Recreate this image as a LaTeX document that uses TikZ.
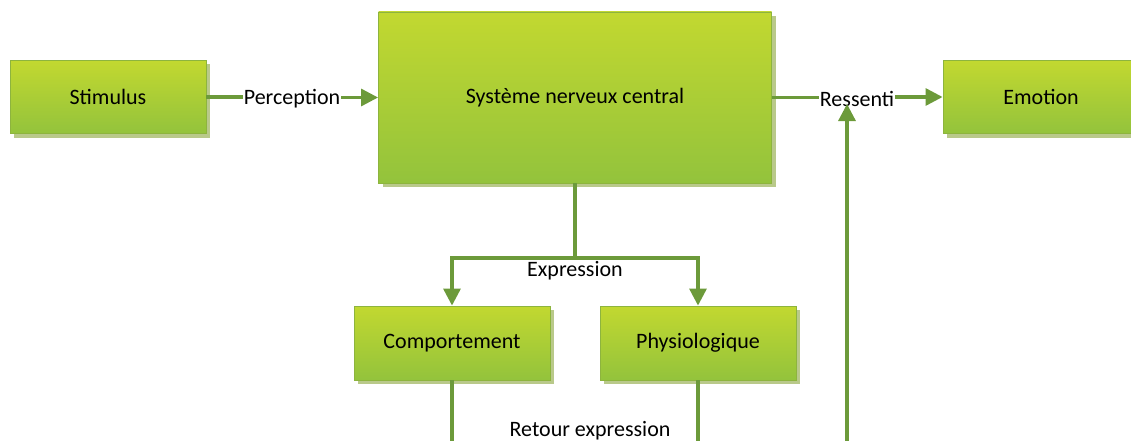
\documentclass[tikz,border=0pt]{standalone}
\usepackage{fontspec}
\setmainfont{Carlito}
\usetikzlibrary{arrows.meta,shadows}
\definecolor{boxtop}{HTML}{C2D830}
\definecolor{boxbot}{HTML}{93C33C}
\definecolor{boxedge}{HTML}{8DB43E}
\definecolor{linkcol}{HTML}{6C9A3A}
\definecolor{shadecol}{HTML}{B9C98A}
\tikzset{
  greenbox/.style={draw=boxedge, line width=0.9pt, top color=boxtop, bottom color=boxbot,
    rectangle, inner sep=0pt, font=\fontsize{22}{26}\selectfont,
    drop shadow={shadow xshift=4pt, shadow yshift=-4pt, fill=shadecol, opacity=1}},
  link/.style={draw=linkcol, line width=3.2pt},
  arr/.style={link, -{Triangle[length=17pt,width=17pt]}},
  lbl/.style={font=\fontsize{22}{26}\selectfont, inner sep=1pt, fill=white},
  plainlbl/.style={font=\fontsize{22}{26}\selectfont, inner sep=1pt}
}
\begin{document}
\begin{tikzpicture}[x=1pt,y=-1pt]
\useasboundingbox (0,0) rectangle (1131,441);
\clip (0,0) rectangle (1131,441);

% boxes
\node[greenbox, minimum width=196pt, minimum height=73pt] (stim) at (108,97) {Stimulus};
\node[greenbox, minimum width=393pt, minimum height=171pt] (snc) at (575,97.5) {Système nerveux central};
\node[greenbox, minimum width=196pt, minimum height=73pt] (emo) at (1041,97) {Emotion};
\node[greenbox, minimum width=196pt, minimum height=74pt] (comp) at (452,343) {Comportement};
\node[greenbox, minimum width=196pt, minimum height=74pt] (phys) at (698,343) {Physiologique};

% helper points on the lower edge and the fork
\coordinate (fork) at (575,258);
\coordinate (cbot) at (452,445);
\coordinate (pbot) at (698,445);
\coordinate (rbot) at (847,445);
\coordinate (rtip) at (847,104);

% Perception
\node[lbl] (perc) at (292,99) {Perception};
\draw[link] (stim.east) -- (stim.east -| perc.west);
\draw[arr] (perc.east |- snc.west) -- (snc.west);

% Ressenti
\node[plainlbl] (ress) at (857,99) {Ressenti};
\draw[link] (snc.east) -- (snc.east -| ress.west);
\draw[arr] (ress.east |- emo.west) -- (emo.west);
\draw[arr] (rbot) -- (rtip);

% Expression fork
\draw[link] (snc.south) -- (fork);
\draw[arr] (fork) -| (comp.north);
\draw[arr] (fork) -| (phys.north);
\node[plainlbl] (expr) at (575,271) {Expression};

% Retour expression
\draw[link] (comp.south) -- (cbot);
\draw[link] (phys.south) -- (pbot);
\node[plainlbl] (ret) at (590,431) {Retour expression};
\end{tikzpicture}
\end{document}
